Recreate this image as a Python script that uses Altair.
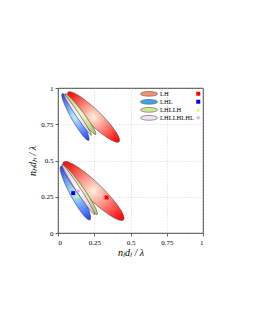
import altair as alt
import numpy as np
import pandas as pd

series = ["LH", "LHL", "LHLLH", "LHLLHLHL"]
# ellipse parameters: two ellipses per series (upper, lower)
cx = {"LH": [0.245, 0.245], "LHL": [0.12, 0.12], "LHLLH": [0.155, 0.15], "LHLLHLHL": [0.135, 0.14]}
cy = {"LH": [0.80, 0.29], "LHL": [0.80, 0.275], "LHLLH": [0.82, 0.30], "LHLLHLHL": [0.815, 0.30]}
semi_major = {"LH": [0.245, 0.287], "LHL": [0.185, 0.21], "LHLLH": [0.175, 0.21], "LHLLHLHL": [0.17, 0.205]}
semi_minor = {"LH": [0.05, 0.058], "LHL": [0.028, 0.036], "LHLLH": [0.021, 0.026], "LHLLHLHL": [0.012, 0.016]}
angle_deg = {"LH": [-44, -44], "LHL": [-60.5, -61.5], "LHLLH": [-53, -55], "LHLLHLHL": [-56, -57]}

edge_colors = {"LH": "#ff1010", "LHL": "#1030ff", "LHLLH": "#a8cc50", "LHLLHLHL": "#e8b0f0"}
center_colors = {"LH": "#fff0dc", "LHL": "#b8f4ff", "LHLLH": "#f4fad0", "LHLLHLHL": "#ffffff"}
legend_colors = ["#f59070", "#40a0f0", "#d0e890", "#f4e0f8"]

pt_x = [0.335, 0.105, 0.135, 0.14]
pt_y = [0.245, 0.275, 0.255, 0.29]
pt_colors = ["#ff0000", "#0000ee", "#ccff66", "#ff99ff"]
pt_shapes = ["square", "square", "triangle-up", "diamond"]

ticks = [0, 0.25, 0.5, 0.75, 1]

rows = []
t = np.linspace(0, 2 * np.pi, 121)
for s in series:
    for k in range(2):
        th = np.radians(angle_deg[s][k])
        a, b = semi_major[s][k], semi_minor[s][k]
        xs = cx[s][k] + a * np.cos(t) * np.cos(th) - b * np.sin(t) * np.sin(th)
        ys = cy[s][k] + a * np.cos(t) * np.sin(th) + b * np.sin(t) * np.cos(th)
        for i, (xx, yy) in enumerate(zip(xs, ys)):
            rows.append({"series": s, "group": f"{s}{k}", "i": i, "x": xx, "y": yy})
ell = pd.DataFrame(rows)

font = "Liberation Serif"
xsc = alt.Scale(domain=[0, 1], nice=False, zero=False)
ysc = alt.Scale(domain=[0, 1], nice=False, zero=False)
lab = "datum.value == 0 ? '0' : datum.value == 1 ? '1' : format(datum.value, '.2~f')"
xax = alt.Axis(values=ticks, labelExpr=lab, title="nₗdₗ / λ", grid=True)
yax = alt.Axis(values=ticks, labelExpr=lab, title="nₕdₕ / λ", grid=True)
X = alt.X("x:Q", scale=xsc, axis=xax)
Y = alt.Y("y:Q", scale=ysc, axis=yax)

layers = []
for j, s in enumerate(series):
    grad = {"gradient": "radial", "x1": 0.5, "y1": 0.5, "r1": 0, "x2": 0.5, "y2": 0.5, "r2": 0.62,
            "stops": [{"offset": 0, "color": center_colors[s]}, {"offset": 1, "color": edge_colors[s]}]}
    layer = alt.Chart(ell[ell.series == s]).mark_line(fill=grad, stroke="#404040", strokeWidth=0.6).encode(
        x=X, y=Y, detail="group:N", order="i:Q",
    )
    layers.append(layer)

ellipse_path = "M -1 0 A 1 0.28 0 1 1 1 0 A 1 0.28 0 1 1 -1 0 Z"
leg_df = pd.DataFrame({"series": series, "x": [0.0] * 4, "y": [0.0] * 4})
leg_layer = alt.Chart(leg_df).mark_point(opacity=0, filled=True).encode(
    x=X, y=Y,
    color=alt.Color("series:N", scale=alt.Scale(domain=series, range=legend_colors),
                    legend=alt.Legend(title=None, orient="none", legendX=82, legendY=2,
                                      symbolType=ellipse_path, symbolSize=290, symbolOpacity=1,
                                      symbolStrokeColor="#555", symbolStrokeWidth=0.6,
                                      labelFont=font, labelFontSize=6.5, rowPadding=0, clipHeight=7.7,
                                      labelOffset=2, labelColor="#000")),
)

pts = pd.DataFrame({"name": series, "x": pt_x, "y": pt_y})
pt_layer = alt.Chart(pts).mark_point(filled=True, size=16, opacity=1).encode(
    x=X, y=Y,
    color=alt.Color("name:N", scale=alt.Scale(domain=series, range=pt_colors),
                    legend=alt.Legend(title=None, orient="none", legendX=137, legendY=2,
                                      labelExpr="''", symbolSize=16, rowPadding=0, clipHeight=7.7,
                                      labelFontSize=6.5, symbolOpacity=1)),
    shape=alt.Shape("name:N", scale=alt.Scale(domain=series, range=pt_shapes)),
)

chart = alt.layer(*layers, leg_layer, pt_layer).resolve_scale(color="independent", shape="independent").properties(
    width=145, height=145,
    autosize=alt.AutoSizeParams(type="none"),
    padding={"left": 50, "top": 80, "right": 42, "bottom": 78},
).configure_view(stroke="#000", strokeWidth=0.8).configure_axis(
    domain=False, tickSize=3, tickColor="#000", tickWidth=0.6,
    labelFont=font, labelFontSize=7, labelColor="#000", labelPadding=2,
    titleFont=font, titleFontSize=10, titleFontStyle="italic", titleFontWeight="normal", titleColor="#000",
    gridColor="#bbbbbb", gridDash=[1, 2], gridWidth=0.6,
).configure_axisY(titlePadding=3).configure_axisX(titlePadding=2)

chart.save("out.html", embed_options={"renderer": "svg", "actions": False})
